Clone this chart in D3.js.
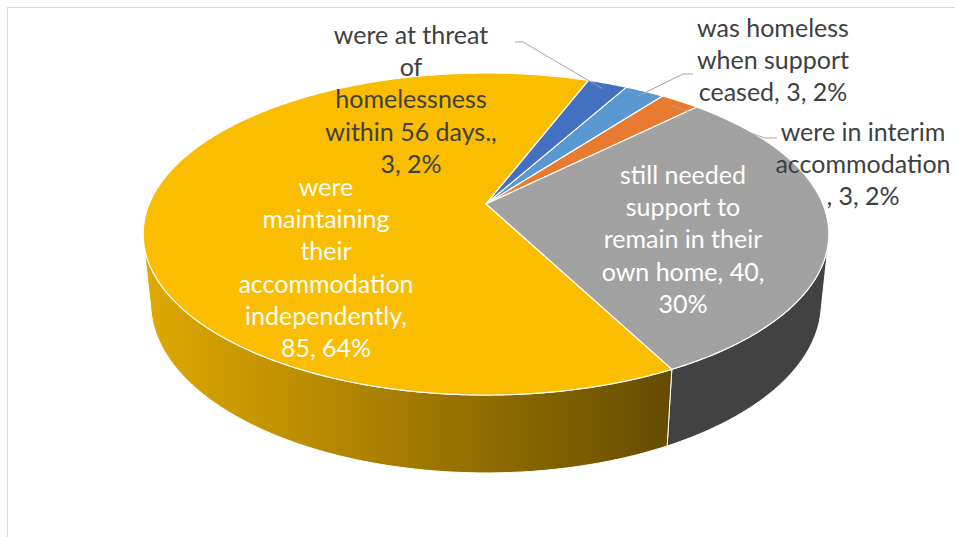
<!DOCTYPE html>
<html>
<head>
<meta charset="utf-8">
<script src="https://cdn.jsdelivr.net/npm/d3@7"></script>
<style>
    html, body { margin: 0; padding: 0; background: #fff; }
    #chart { width: 955px; height: 537px; }
    text { font-family: Lato, "Open Sans", sans-serif; }
</style>
</head>
<body>
<div id="chart"></div>
<script>
// Data, in series order
const categories = [
    "was homeless when support ceased",
    "were in interim accommodation",
    "still needed support to remain in their own home",
    "were maintaining their accommodation independently",
    "were at threat of homelessness within 56 days."
];
const values = [3, 3, 40, 85, 3];
const percentLabels = ["2%", "2%", "30%", "64%", "2%"];
const colours = ["#5B9BD5", "#ED7D31", "#A5A5A5", "#FFC000", "#4472C4"];
const labelLines = [
    ["was homeless", "when support", "ceased, 3, 2%"],
    ["were in interim", "accommodation", ", 3, 2%"],
    ["still needed", "support to", "remain in their", "own home, 40,", "30%"],
    ["were", "maintaining", "their", "accommodation", "independently,", "85, 64%"],
    ["were at threat", "of", "homelessness", "within 56 days.,", "3, 2%"]
];

const width = 955;
const height = 537;

// Projection of the tilted disc (perspective)
const cx = 486, cy = 204;
const fx = 1610, fy = 1635;
const tilt = 27.03 * Math.PI / 180;
const sinT = Math.sin(tilt), cosT = Math.cos(tilt);
const camDist = 4.78;
const depth = 0.227;

const project = (theta, r, y) => {
    const X = r * Math.sin(theta);
    const Z = -r * Math.cos(theta);
    const w = camDist - Z * cosT - y * sinT;
    const v = Z * sinT - y * cosT;
    return [cx + fx * X / w, cy + fy * v / w];
};

const arcPoints = (a0, a1, r, y) => {
    const n = Math.max(2, Math.ceil(Math.abs(a1 - a0) / 0.01));
    return d3.range(n + 1).map(i => project(a0 + (a1 - a0) * i / n, r, y));
};

const line = d3.line();

const svg = d3.select("#chart")
    .append("svg")
    .attr("width", width)
    .attr("height", height);

// Chart area border
svg.append("rect")
    .attr("x", 7.5)
    .attr("y", 7.5)
    .attr("width", 1000)
    .attr("height", 1000)
    .attr("fill", "none")
    .attr("stroke", "#D9D9D9");

const pie = d3.pie()
    .sort(null)
    .startAngle(29 * Math.PI / 180)
    .endAngle(29 * Math.PI / 180 + 2 * Math.PI);

const arcs = pie(values).map((d, i) => ({ ...d, i: i }));

// Side shading gradients
const defs = svg.append("defs");
colours.forEach((c, i) => {
    const grad = defs.append("linearGradient")
        .attr("id", "side-" + i)
        .attr("gradientUnits", "userSpaceOnUse")
        .attr("x1", 145).attr("x2", 665)
        .attr("y1", 0).attr("y2", 0);
    const base = d3.rgb(c);
    const shade = k => d3.rgb(base.r * k, base.g * k, base.b * k).formatHex();
    grad.append("stop").attr("offset", 0).attr("stop-color", shade(0.88));
    grad.append("stop").attr("offset", 1).attr("stop-color", shade(0.40));
});

// Visible part of the outer wall
const visFrom = Math.acos(-1 / (camDist * cosT));
const visTo = 2 * Math.PI - visFrom;

const wallPieces = [];
arcs.forEach(d => {
    [0, 1].forEach(k => {
        const lo = Math.max(d.startAngle, visFrom + k * 2 * Math.PI);
        const hi = Math.min(d.endAngle, visTo + k * 2 * Math.PI);
        if (hi > lo) wallPieces.push({ i: d.i, a0: lo, a1: hi });
    });
});

// Add walls
svg.append("g")
    .selectAll("path")
    .data(wallPieces)
    .enter()
    .append("path")
    .attr("d", p => line(arcPoints(p.a0, p.a1, 1, 0)
        .concat(arcPoints(p.a1, p.a0, 1, -depth))) + "Z")
    .attr("fill", p => "url(#side-" + p.i + ")")
    .attr("stroke", "#fff")
    .attr("stroke-width", 1)
    .attr("stroke-linejoin", "round");

// Add top faces
svg.append("g")
    .selectAll("path")
    .data(arcs)
    .enter()
    .append("path")
    .attr("d", d => line([project(0, 0, 0)]
        .concat(arcPoints(d.startAngle, d.endAngle, 1, 0))) + "Z")
    .attr("fill", d => d3.rgb(colours[d.i]).darker(0.05))
    .attr("stroke", "#fff")
    .attr("stroke-width", 1.2)
    .attr("stroke-linejoin", "round");

// Label layout: centre x, first line y, inside slice or not, leader elbow
const labelLayout = [
    { x: 773, y: 28, inside: false, leader: [[693, 74], [683, 74]] },
    { x: 863, y: 132, inside: false, leader: [[777, 138], [765, 138]] },
    { x: 683, y: 175, inside: true },
    { x: 326, y: 187, inside: true },
    { x: 411, y: 35, inside: false, leader: [[515, 42], [523, 42]] }
];
const lineHeight = 32.3;

// Add leader lines
svg.append("g")
    .selectAll("path")
    .data(arcs.filter(d => labelLayout[d.i].leader))
    .enter()
    .append("path")
    .attr("d", d => {
        const mid = (d.startAngle + d.endAngle) / 2;
        return line(labelLayout[d.i].leader.concat([project(mid, 0.95, 0)]));
    })
    .attr("fill", "none")
    .attr("stroke", "#A6A6A6")
    .attr("stroke-width", 1);

// Add labels
const labels = svg.append("g")
    .selectAll("text")
    .data(arcs)
    .enter()
    .append("text")
    .attr("text-anchor", "middle")
    .attr("font-size", 25)
    .attr("fill", d => labelLayout[d.i].inside ? "#FFFFFF" : "#404040");

labels.selectAll("tspan")
    .data(d => labelLines[d.i].map((t, j) => ({ t: t, j: j, i: d.i })))
    .enter()
    .append("tspan")
    .attr("x", s => labelLayout[s.i].x)
    .attr("y", s => labelLayout[s.i].y + s.j * lineHeight)
    .attr("dy", "0.35em")
    .text(s => s.t);
</script>
</body>
</html>
